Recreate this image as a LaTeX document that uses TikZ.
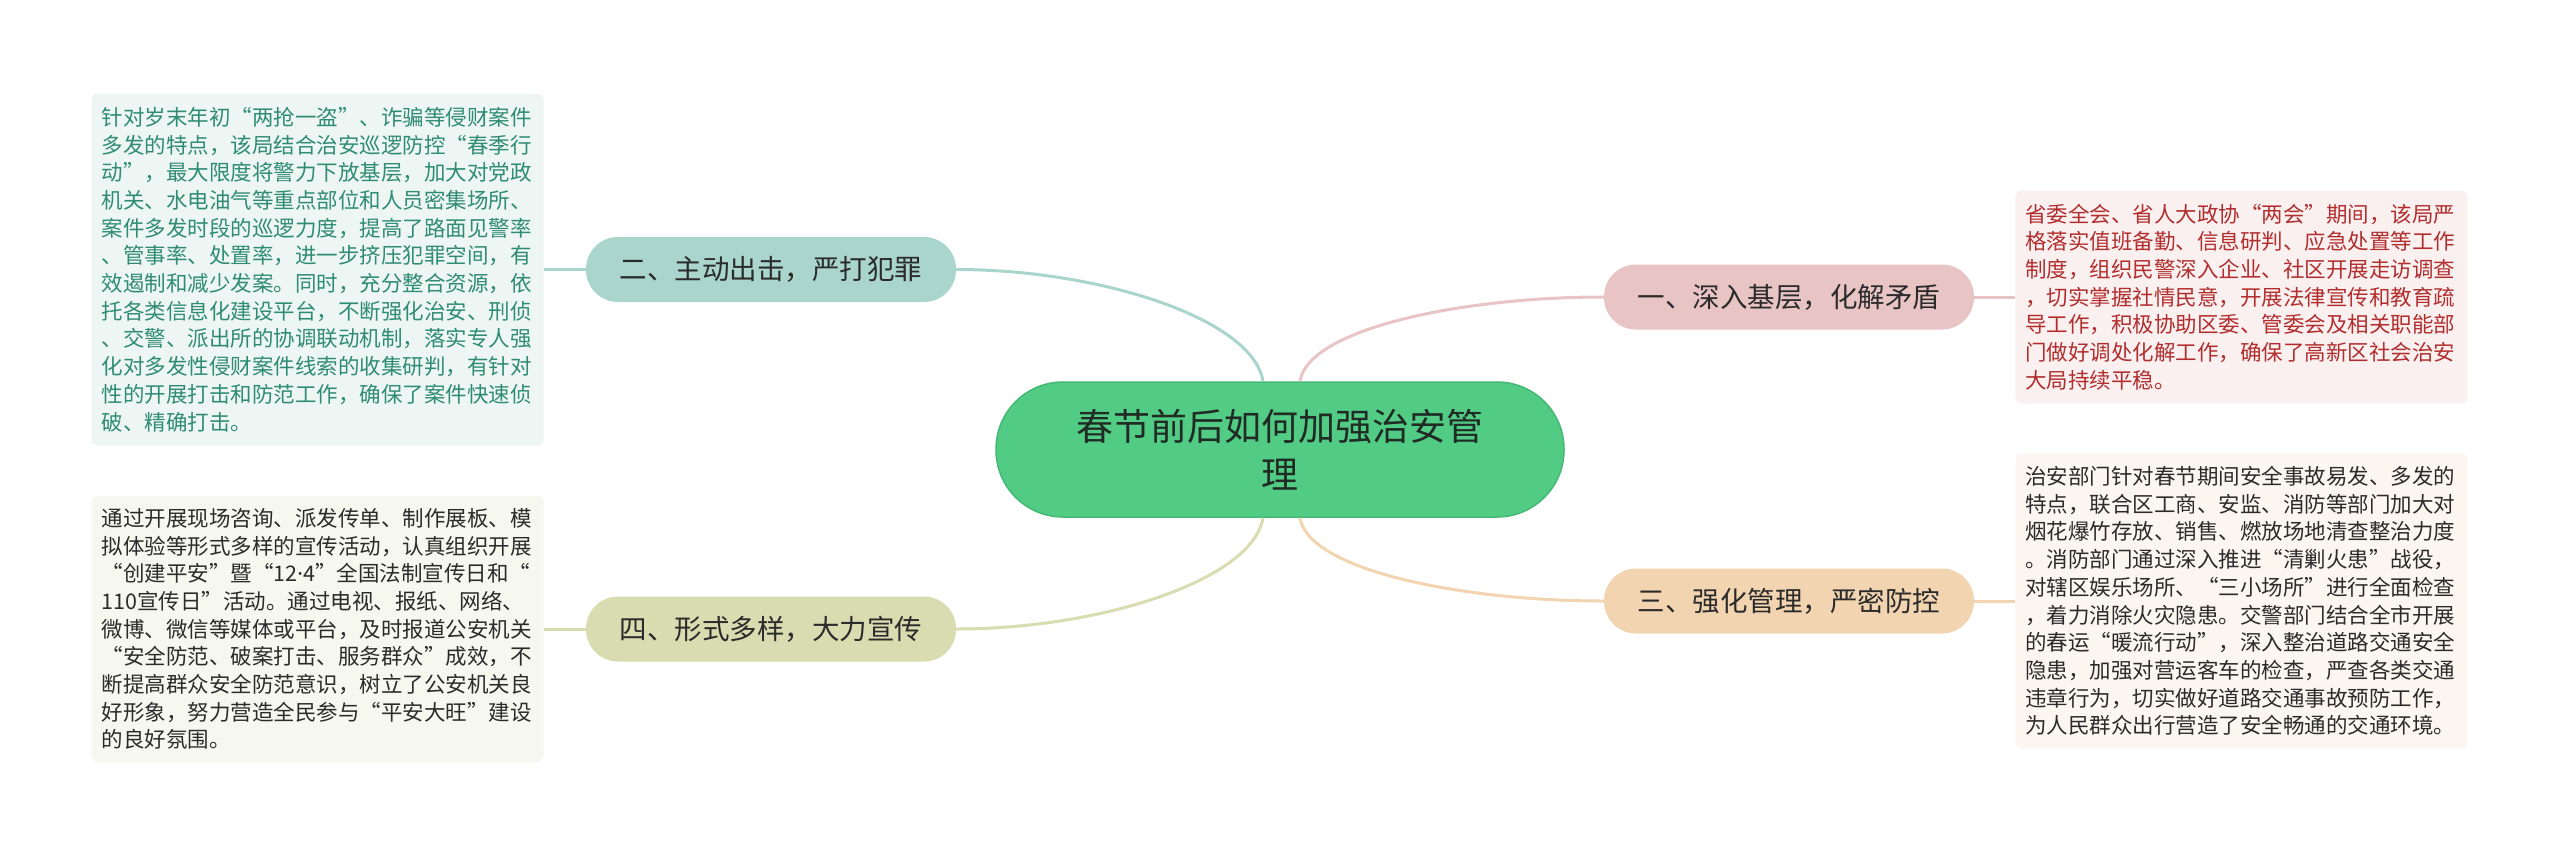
\documentclass[tikz,border=0pt]{standalone}
\usepackage{fontspec}
\usepackage{tikz}
\usetikzlibrary{positioning}
\newfontfamily\cjk{Noto Sans CJK SC}
\newfontfamily\latin{Noto Sans}

\definecolor{topicfill}{HTML}{52CC85}
\definecolor{topicline}{HTML}{45B874}
\definecolor{topictext}{HTML}{1F2B24}
\definecolor{tealfill}{HTML}{A9D5CD}
\definecolor{olivefill}{HTML}{D9DCB0}
\definecolor{pinkfill}{HTML}{E8C4C4}
\definecolor{orangefill}{HTML}{F2D4B1}
\definecolor{tealnote}{HTML}{EEF6F4}
\definecolor{olivenote}{HTML}{F6F7EE}
\definecolor{pinknote}{HTML}{FAF0F0}
\definecolor{orangenote}{HTML}{FCF6F0}
\definecolor{tealtext}{HTML}{2F8C73}
\definecolor{pinktext}{HTML}{B22E2E}
\definecolor{darktext}{HTML}{2B2B2B}

\begin{document}
\begin{tikzpicture}[x=1pt, y=-1pt, node distance=42pt]
    \tikzstyle{topicbox} = [rectangle, rounded corners=67pt, minimum width=568pt, minimum height=135pt, draw=topicline, line width=1.5pt, fill=topicfill, text=topictext, align=center, font=\cjk\fontsize{37}{48}\selectfont]
    \tikzstyle{branch} = [rectangle, rounded corners=32pt, minimum width=370pt, minimum height=65pt, text=darktext, font=\cjk\fontsize{27.5}{30}\selectfont]
    \tikzstyle{note} = [rectangle, rounded corners=6pt, text width=432pt, inner xsep=10pt, inner ysep=0pt, align=left, font=\cjk\fontsize{21.5}{27.7}\selectfont]
    \tikzstyle{link} = [line width=3pt]

    \useasboundingbox [fill=white] (0,0) rectangle (2560,857);

    \node (topic) [topicbox] at (1280,449.5) {春节前后如何加强治安管\\理};

    \node (strike) [branch, fill=tealfill] at (771,269.5) {二、主动出击，严打犯罪};
    \node (publicity) [branch, fill=olivefill] at (771,629) {四、形式多样，大力宣传};
    \node (deep) [branch, fill=pinkfill] at (1789,297) {一、深入基层，化解矛盾};
    \node (manage) [branch, fill=orangefill] at (1789,601) {三、强化管理，严密防控};

    \node (striketxt) [note, fill=tealnote, text=tealtext, minimum height=352pt, left=of strike] {针对岁末年初“两抢一盗”、诈骗等侵财案件\\多发的特点，该局结合治安巡逻防控“春季行\\动”，最大限度将警力下放基层，加大对党政\\机关、水电油气等重点部位和人员密集场所、\\案件多发时段的巡逻力度，提高了路面见警率\\、管事率、处置率，进一步挤压犯罪空间，有\\效遏制和减少发案。同时，充分整合资源，依\\托各类信息化建设平台，不断强化治安、刑侦\\、交警、派出所的协调联动机制，落实专人强\\化对多发性侵财案件线索的收集研判，有针对\\性的开展打击和防范工作，确保了案件快速侦\\破、精确打击。};
    \node (publicitytxt) [note, fill=olivenote, text=darktext, minimum height=266pt, left=of publicity] {通过开展现场咨询、派发传单、制作展板、模\\拟体验等形式多样的宣传活动，认真组织开展\\“创建平安”暨“12{\latin ·}4”全国法制宣传日和“\\110宣传日”活动。通过电视、报纸、网络、\\微博、微信等媒体或平台，及时报道公安机关\\“安全防范、破案打击、服务群众”成效，不\\断提高群众安全防范意识，树立了公安机关良\\好形象，努力营造全民参与“平安大旺”建设\\的良好氛围。};
    \node (deeptxt) [note, fill=pinknote, text=pinktext, minimum height=213pt, right=41pt of deep] {省委全会、省人大政协“两会”期间，该局严\\格落实值班备勤、信息研判、应急处置等工作\\制度，组织民警深入企业、社区开展走访调查\\，切实掌握社情民意，开展法律宣传和教育疏\\导工作，积极协助区委、管委会及相关职能部\\门做好调处化解工作，确保了高新区社会治安\\大局持续平稳。};
    \node (managetxt) [note, fill=orangenote, text=darktext, minimum height=295pt, right=41pt of manage] {治安部门针对春节期间安全事故易发、多发的\\特点，联合区工商、安监、消防等部门加大对\\烟花爆竹存放、销售、燃放场地清查整治力度\\。消防部门通过深入推进“清剿火患”战役，\\对辖区娱乐场所、“三小场所”进行全面检查\\，着力消除火灾隐患。交警部门结合全市开展\\的春运“暖流行动”，深入整治道路交通安全\\隐患，加强对营运客车的检查，严查各类交通\\违章行为，切实做好道路交通事故预防工作，\\为人民群众出行营造了安全畅通的交通环境。};

    \draw [link, tealfill] ([xshift=-17pt]topic.north) .. controls +(-10,-62) and +(145,0) .. (strike.east);
    \draw [link, olivefill] ([xshift=-17pt]topic.south) .. controls +(-10,62) and +(145,0) .. (publicity.east);
    \draw [link, pinkfill] ([xshift=20pt]topic.north) .. controls +(8,-52) and +(-144,0) .. (deep.west);
    \draw [link, orangefill] ([xshift=20pt]topic.south) .. controls +(8,52) and +(-144,0) .. (manage.west);

    \draw [link, tealfill] (strike) -- (striketxt);
    \draw [link, olivefill] (publicity) -- (publicitytxt);
    \draw [link, pinkfill] (deep) -- (deeptxt);
    \draw [link, orangefill] (manage) -- (managetxt);
\end{tikzpicture}
\end{document}
